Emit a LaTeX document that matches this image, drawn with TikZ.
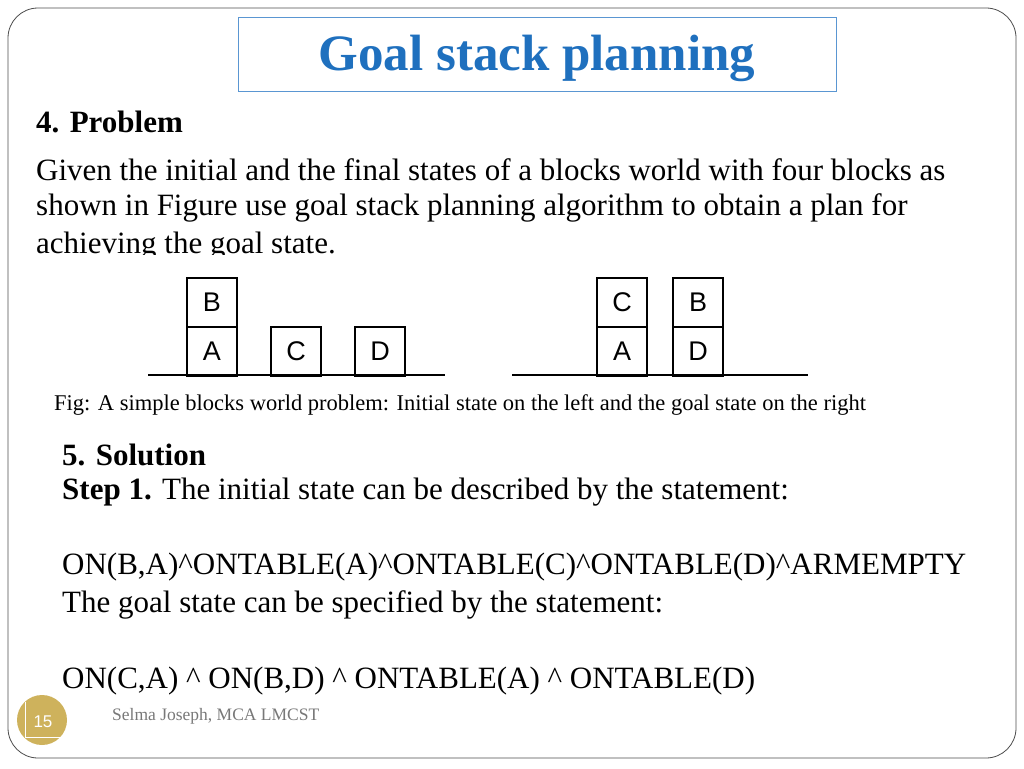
\documentclass[tikz,border=0pt]{standalone}
\usepackage{fontspec}
\usetikzlibrary{positioning}
\setmainfont{Liberation Serif}
\newfontfamily\blockfont{Liberation Sans}
\definecolor{titleblue}{RGB}{31,112,190}
\definecolor{boxblue}{RGB}{90,150,210}
\definecolor{gold}{RGB}{206,178,92}
\definecolor{footgray}{RGB}{120,120,120}
\tikzset{
  body/.style={anchor=west,inner sep=0pt,font=\fontsize{31}{34}\selectfont},
  block/.style={draw,line width=2pt,minimum width=50pt,minimum height=49pt,
    inner sep=0pt,font=\blockfont\fontsize{27}{27}\selectfont},
  ground/.style={line width=2pt}
}
\begin{document}
\begin{tikzpicture}[x=1pt,y=-1pt]
  % page frame
  \useasboundingbox (0,0) rectangle (1024,768);
  \draw[rounded corners=30pt,line width=0.8pt,black!70] (8,8) rectangle (1016,758);
  % title
  \draw[boxblue,line width=0.8pt] (238,17) rectangle (836,91);
  \node[font=\bfseries\fontsize{51}{54}\selectfont,text=titleblue] (title) at (537,58) {Goal stack planning};
  % problem text
  \node[body,font=\bfseries\fontsize{31}{34}\selectfont] (prob) at (36,122) {4. Problem};
  \node[body] (l1) at (36,170) {Given the initial and the final states of a blocks world with four blocks as};
  \node[body] (l2) at (36,208) {shown in Figure use goal stack planning algorithm to obtain a plan for};
  \node[body] (l3) at (36,246) {achieving the goal state.};
  \fill[white] (140,255) rectangle (880,392);
  % initial state
  \draw[ground] (148,375) -- (445,375);
  \node[block] (iA) at (212,351) {A};
  \node[block,above=-2pt of iA] (iB) {B};
  \node[block] (iC) at (296,351) {C};
  \node[block] (iD) at (380,351) {D};
  % goal state
  \draw[ground] (512,375) -- (808,375);
  \node[block] (gA) at (622,351) {A};
  \node[block,above=-2pt of gA] (gC) {C};
  \node[block] (gD) at (698,351) {D};
  \node[block,above=-2pt of gD] (gB) {B};
  \node[body,font=\fontsize{22.5}{25}\selectfont] (cap) at (54,405) {Fig: A simple blocks world problem: Initial state on the left and the goal state on the right};
  % solution
  \node[body,font=\bfseries\fontsize{31}{34}\selectfont] (sol) at (62,455) {5. Solution};
  \node[body] (s1) at (62,492) {\textbf{Step 1.} The initial state can be described by the statement:};
  \node[body] (s2) at (62,567) {ON(B,A)\^{}ONTABLE(A)\^{}ONTABLE(C)\^{}ONTABLE(D)\^{}ARMEMPTY};
  \node[body] (s3) at (62,605) {The goal state can be specified by the statement:};
  \node[body] (s4) at (62,681) {ON(C,A) \^{} ON(B,D) \^{} ONTABLE(A) \^{} ONTABLE(D)};
  % footer
  \fill[gold] (42,720) circle (25);
  \draw[white,line width=0.8pt] (25,702) -- (25,737) -- (62,737);
  \node[text=white,font=\blockfont\fontsize{17}{17}\selectfont] (num) at (43,722) {15};
  \node[body,text=footgray,font=\fontsize{17.5}{19}\selectfont] (foot) at (112,716) {Selma Joseph, MCA LMCST};
\end{tikzpicture}
\end{document}
